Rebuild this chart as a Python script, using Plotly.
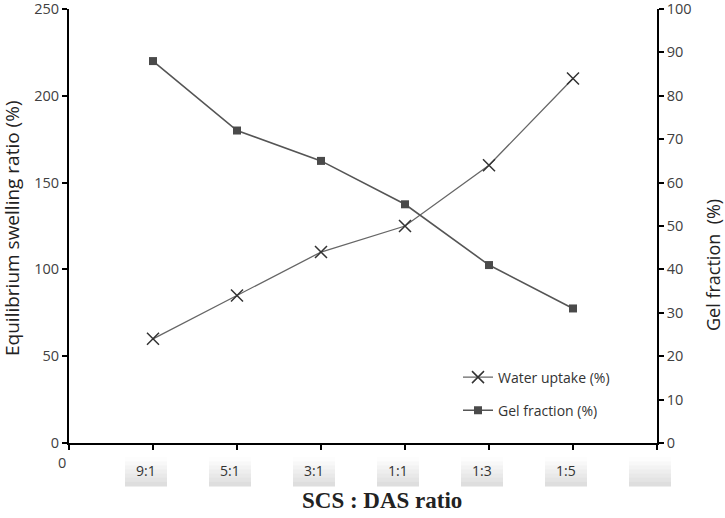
import plotly.graph_objects as go

categories = ["9:1", "5:1", "3:1", "1:1", "1:3", "1:5"]
cat_pos = [1, 2, 3, 4, 5, 6]
water_uptake = [60, 85, 110, 125, 160, 210]
gel_fraction = [88, 72, 65, 55, 41, 31]
left_ticks = [0, 50, 100, 150, 200, 250]
right_ticks = [0, 10, 20, 30, 40, 50, 60, 70, 80, 90, 100]

X_MAX = 7
L, R, T, B = 69, 68, 9, 75
W, H = 725, 518
PW, PH = W - L - R, H - T - B

fig = go.Figure()
fig.add_trace(go.Scatter(
    x=cat_pos, y=water_uptake, name="Water uptake (%)", mode="lines+markers",
    legendgroup="a",
    line=dict(color="#666666", width=1.3),
    marker=dict(symbol="x-thin", size=12, line=dict(color="#333333", width=1.5), color="#333333"),
    yaxis="y"))
fig.add_trace(go.Scatter(
    x=cat_pos, y=gel_fraction, name="Gel fraction (%)", mode="lines+markers",
    legendgroup="b",
    line=dict(color="#555555", width=1.6),
    marker=dict(symbol="square", size=8, color="#4a4a4a"),
    yaxis="y2"))

tickfont = dict(family="Open Sans", size=14.5, color="#404040")
fig.update_layout(
    width=W, height=H,
    margin=dict(l=L, r=R, t=T, b=B, autoexpand=False),
    paper_bgcolor="white", plot_bgcolor="white",
    showlegend=True,
    legend=dict(x=(458 - L) / PW, y=(H - B - 394) / PH, xanchor="left", yanchor="middle",
                traceorder="grouped",
                font=dict(family="Open Sans", size=14, color="#333333"),
                bgcolor="rgba(0,0,0,0)", tracegroupgap=12, itemwidth=30),
    xaxis=dict(range=[0, X_MAX], tickvals=list(range(0, X_MAX + 1)), showticklabels=False,
               ticks="outside", ticklen=5, tickcolor="black", tickwidth=1.5,
               showline=True, linecolor="black", linewidth=1.5, showgrid=False,
               zeroline=False, automargin=False),
    yaxis=dict(range=[0, 250], tickvals=left_ticks, ticks="outside", ticklen=5,
               tickcolor="black", tickwidth=1.5, showline=True, linecolor="black",
               linewidth=2, showgrid=False, zeroline=False, tickfont=tickfont,
               automargin=False, ticklabeloverflow="allow"),
    yaxis2=dict(range=[0, 100], tickvals=right_ticks, overlaying="y", side="right",
                ticks="outside", ticklen=5, tickcolor="black", tickwidth=1.5,
                showline=True, linecolor="black", linewidth=1.5, showgrid=False,
                zeroline=False, tickfont=tickfont, automargin=False,
                ticklabeloverflow="allow"),
)

# gradient boxes behind category labels (paper coords so they are not clipped)
box_positions = cat_pos + [X_MAX]
bands = ["#fdfdfd", "#f8f8f8", "#f3f3f3", "#eeeeee", "#e9e9e9", "#e4e4e4", "#dedede"]
box_top, box_bot = 457, 486
band_h = (box_bot - box_top) / len(bands)
for p in box_positions:
    cx = L + PW * p / X_MAX - 7
    for i, c in enumerate(bands):
        y0 = box_top + i * band_h
        y1 = box_top + (i + 1) * band_h + 0.5
        fig.add_shape(type="rect", xref="paper", yref="paper",
                      x0=(cx - 21 - L) / PW, x1=(cx + 21 - L) / PW,
                      y0=(H - B - y0) / PH, y1=(H - B - y1) / PH,
                      fillcolor=c, line=dict(width=0), layer="below")

for p, lab in zip(cat_pos, categories):
    fig.add_annotation(x=p, y=0, xref="x", yref="y", text=lab, showarrow=False,
                       yshift=-27, xshift=-7, font=dict(family="Open Sans", size=14, color="#333333"))
fig.add_annotation(x=0, y=0, xref="x", yref="y", text="0", showarrow=False,
                   yshift=-19, xshift=-7, font=tickfont)

fig.add_annotation(x=(382 - L) / PW, y=(H - B - 500) / PH, xref="paper", yref="paper",
                   xanchor="center", yanchor="middle",
                   text="<b>SCS : DAS ratio</b>", showarrow=False,
                   font=dict(family="Liberation Serif", size=23, color="#222222"))
fig.add_annotation(x=(12 - L) / PW, y=(H - B - 228) / PH, xref="paper", yref="paper",
                   text="Equilibrium swelling ratio (%)", showarrow=False, textangle=-90,
                   xanchor="center", yanchor="middle",
                   font=dict(family="Open Sans", size=19, color="#222222"))
fig.add_annotation(x=(713 - L) / PW, y=(H - B - 265) / PH, xref="paper", yref="paper",
                   text="Gel fraction  (%)", showarrow=False, textangle=-90,
                   xanchor="center", yanchor="middle",
                   font=dict(family="Open Sans", size=18, color="#222222"))

fig.write_html("out.html", config={"displayModeBar": False},
               post_script="document.body.style.margin='0';")
